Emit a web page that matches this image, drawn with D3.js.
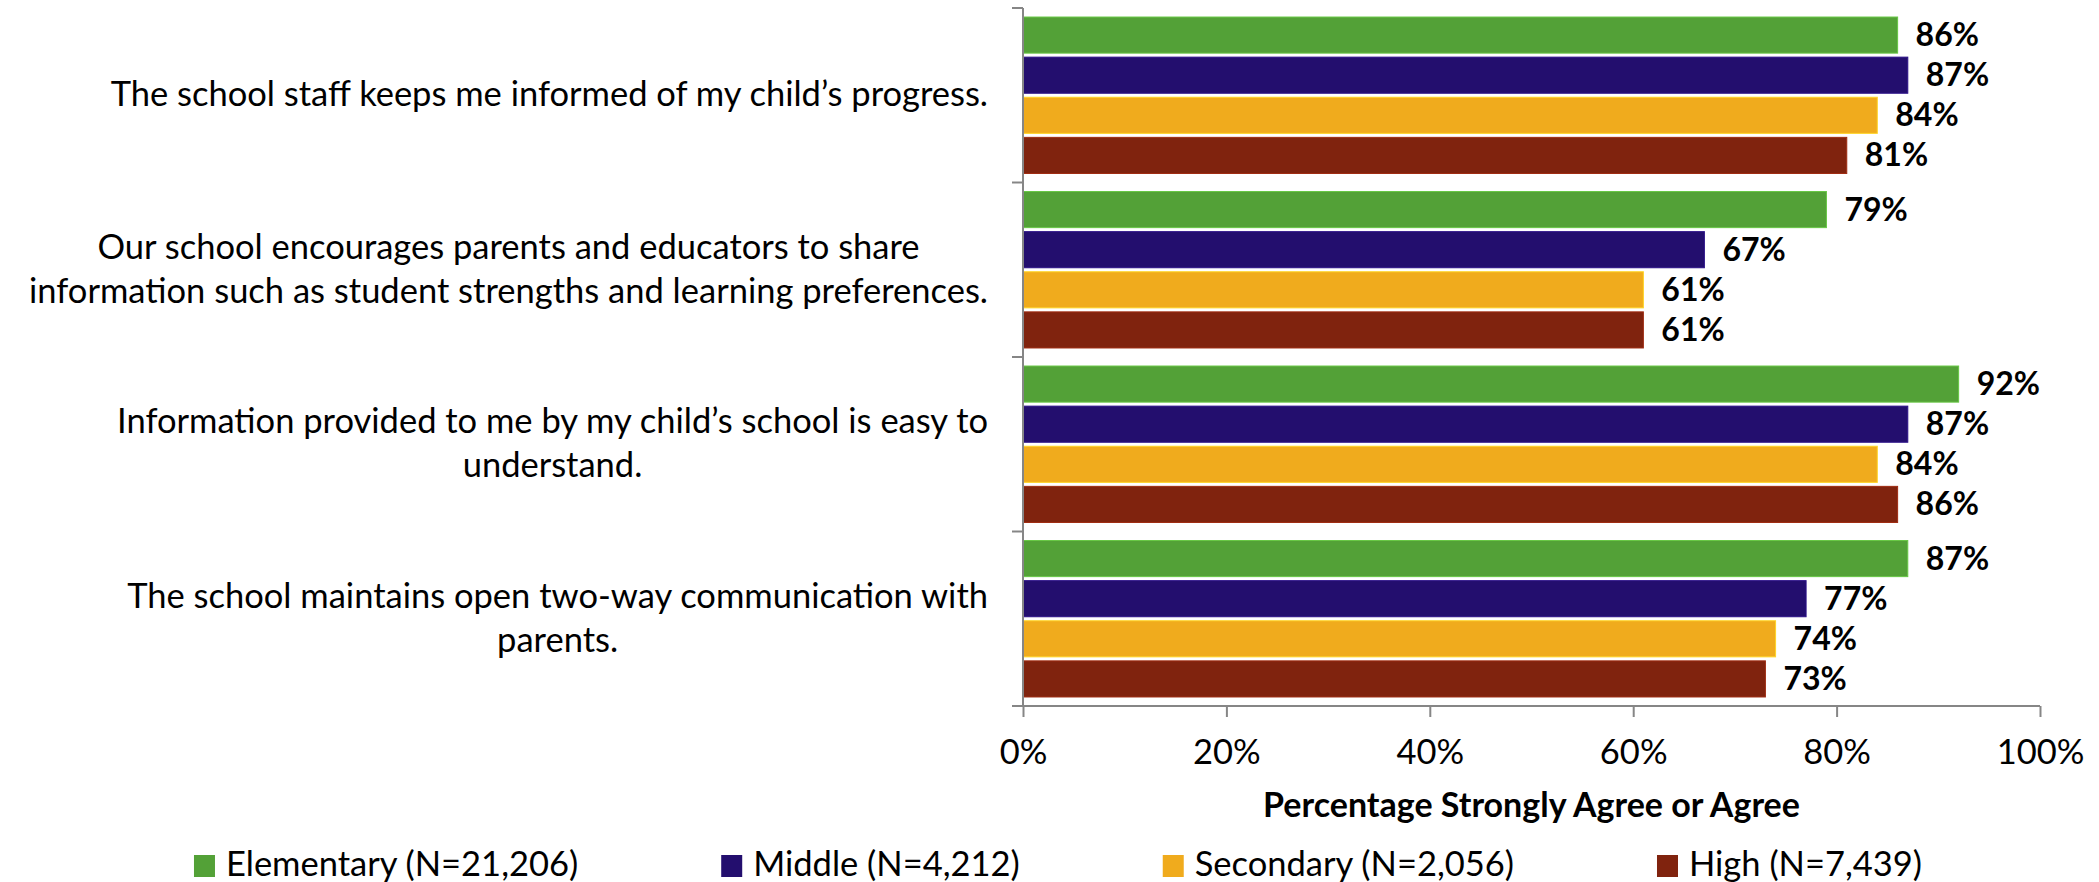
<!DOCTYPE html>
<html>
<head>
<meta charset="utf-8">
<script src="https://cdn.jsdelivr.net/npm/d3@7"></script>
<style>
  body { margin: 0; background: #fff; }
  text { font-family: Lato, "Open Sans", sans-serif; fill: #000; }
</style>
</head>
<body>
<div id="myChart"></div>
<script>
// data
const categories = [
    ["The school staff keeps me informed of my child\u2019s progress."],
    ["Our school encourages parents and educators to share", "information such as student strengths and learning preferences."],
    ["Information provided to me by my child\u2019s school is easy to", "understand."],
    ["The school maintains open two-way communication with", "parents."]
];
const seriesNames = ["Elementary (N=21,206)", "Middle (N=4,212)", "Secondary (N=2,056)", "High (N=7,439)"];
const elementary = [86, 79, 92, 87];
const middle = [87, 67, 87, 77];
const secondary = [84, 61, 84, 74];
const high = [81, 61, 86, 73];
const xTicks = [0, 20, 40, 60, 80, 100];
const colors = ["#53a137", "#230e6e", "#f0ab1d", "#80230e"];

const series = [elementary, middle, secondary, high];

const width = 2099;
const height = 882;
const margin = { top: 8, left: 1023, right: 59, bottom: 176 };
const fontSize = 34.5;

const svg = d3.select("#myChart")
    .append("svg")
    .attr("width", width)
    .attr("height", height);

// x scale
const x = d3.scaleLinear()
    .domain([0, 100])
    .range([margin.left, width - margin.right]);

// y scale per question
const y = d3.scaleBand()
    .domain(d3.range(categories.length))
    .range([margin.top, height - margin.bottom]);

// bars inside each question band
const yInner = d3.scaleBand()
    .domain(d3.range(series.length))
    .range([0, y.bandwidth()])
    .paddingInner(0.1)
    .paddingOuter(0.225);

// bars
const groups = svg.selectAll(".grp")
    .data(categories)
    .enter()
    .append("g")
    .attr("class", "grp")
    .attr("transform", (d, i) => "translate(0," + y(i) + ")");

groups.each(function(c, ci) {
    const g = d3.select(this);
    const rows = series.map((s, si) => ({ si: si, v: s[ci] }));

    g.selectAll("rect")
        .data(rows)
        .enter()
        .append("rect")
        .attr("x", x(0))
        .attr("y", d => yInner(d.si))
        .attr("width", d => x(d.v) - x(0))
        .attr("height", yInner.bandwidth())
        .attr("fill", d => colors[d.si])
        .attr("stroke", d => d3.color(colors[d.si]).brighter(0.6))
        .attr("stroke-width", 1);

    g.selectAll(".val")
        .data(rows)
        .enter()
        .append("text")
        .attr("class", "val")
        .attr("x", d => x(d.v) + 18)
        .attr("y", d => yInner(d.si) + yInner.bandwidth() / 2 + 11)
        .style("font-size", "32px")
        .style("font-weight", "bold")
        .text(d => d.v + "%");
});

// X axis
const xAxis = svg.append("g")
    .attr("transform", "translate(0," + (height - margin.bottom) + ")")
    .call(d3.axisBottom(x).tickValues(xTicks).tickFormat(d => d + "%").tickSize(11).tickSizeOuter(0).tickPadding(23));
xAxis.select(".domain").attr("stroke", "#868686").attr("stroke-width", 2)
    .attr("d", "M" + (x(0) - 11) + ",0H" + x(100));
xAxis.selectAll(".tick line").attr("stroke", "#868686").attr("stroke-width", 2);
xAxis.selectAll(".tick text")
    .style("font-size", fontSize + "px")
    .style("font-family", "Lato, 'Open Sans', sans-serif")
    .attr("fill", "#000");

// Y axis with ticks between questions
const yEdges = d3.range(categories.length).map(i => y(i));
const yAxis = svg.append("g");
yAxis.append("line")
    .attr("x1", x(0)).attr("x2", x(0))
    .attr("y1", y.range()[0]).attr("y2", y.range()[1])
    .attr("stroke", "#868686").attr("stroke-width", 2);
yAxis.selectAll(".edge")
    .data(yEdges)
    .enter()
    .append("line")
    .attr("x1", x(0) - 11).attr("x2", x(0))
    .attr("y1", d => d).attr("y2", d => d)
    .attr("stroke", "#868686").attr("stroke-width", 2);

// Category labels: lines centred in a box whose right edge sits left of the axis
const labelRight = x(0) - 35;
const lineGap = 44;
categories.forEach((lines, ci) => {
    const g = svg.append("g");
    const cy = y(ci) + y.bandwidth() / 2;
    const texts = lines.map((ln, li) => g.append("text")
        .attr("y", cy + (li - (lines.length - 1) / 2) * lineGap + 11)
        .attr("text-anchor", "middle")
        .style("font-size", fontSize + "px")
        .text(ln));
    const maxW = d3.max(texts, t => t.node().getComputedTextLength());
    texts.forEach(t => t.attr("x", labelRight - maxW / 2));
});

// x axis title
svg.append("text")
    .attr("x", (x(0) + x(100)) / 2)
    .attr("y", 817)
    .attr("text-anchor", "middle")
    .style("font-size", "34px")
    .style("font-weight", "bold")
    .text("Percentage Strongly Agree or Agree");

// legend
const legend = svg.append("g");
const items = seriesNames.map((name, i) => {
    const it = legend.append("g");
    it.append("rect")
        .attr("x", 0).attr("y", 855)
        .attr("width", 21).attr("height", 22)
        .attr("fill", colors[i]);
    const t = it.append("text")
        .attr("x", 32).attr("y", 876)
        .style("font-size", fontSize + "px")
        .text(name);
    return { g: it, w: 32 + t.node().getComputedTextLength() };
});
const gap = 143;
const total = d3.sum(items, d => d.w) + gap * (items.length - 1);
let lx = 1058 - total / 2;
items.forEach(d => {
    d.g.attr("transform", "translate(" + lx + ",0)");
    lx += d.w + gap;
});
</script>
</body>
</html>
